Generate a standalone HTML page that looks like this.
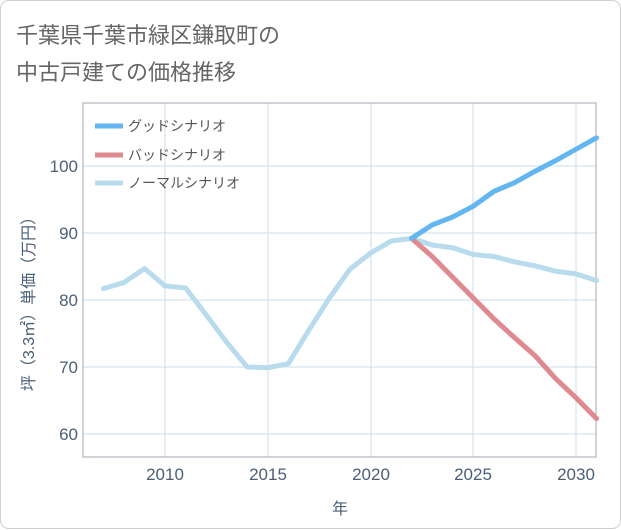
<!DOCTYPE html>
<html><head><meta charset="utf-8"><style>
body{margin:0;background:#fff;}
svg{display:block;font-family:"Liberation Sans","Noto Sans CJK JP",sans-serif;}
</style></head><body>
<svg width="621" height="530" xmlns="http://www.w3.org/2000/svg">
<rect x="0.5" y="0.5" width="620" height="528" rx="8" fill="#fff" stroke="#d0d0d0"/>
<text x="16" y="43" font-size="22" fill="#666">千葉県千葉市緑区鎌取町の</text>
<text x="16" y="80" font-size="22" fill="#666">中古戸建ての価格推移</text>
<g stroke="#d3e3ee" stroke-width="1.2">
<line x1="165" y1="103" x2="165" y2="457"/><line x1="268" y1="103" x2="268" y2="457"/>
<line x1="371" y1="103" x2="371" y2="457"/><line x1="473" y1="103" x2="473" y2="457"/>
<line x1="576" y1="103" x2="576" y2="457"/>
<line x1="83" y1="166" x2="596" y2="166"/><line x1="83" y1="233" x2="596" y2="233"/>
<line x1="83" y1="300" x2="596" y2="300"/><line x1="83" y1="367" x2="596" y2="367"/>
<line x1="83" y1="434" x2="596" y2="434"/>
</g>
<rect x="83" y="103" width="513" height="354" fill="none" stroke="#a0a8b0"/>
<g transform="translate(165,233) scale(20.55,-6.7)" fill="none" stroke-linejoin="round" stroke-linecap="round">
<polyline vector-effect="non-scaling-stroke" stroke="#b8dced" stroke-width="5" points="-3,-8.3 -2,-7.4 -1,-5.3 0,-7.9 1,-8.2 2,-12.2 3,-16.3 4,-20 5,-20.1 6,-19.5 7,-14.5 8,-9.7 9,-5.4 10,-3 11,-1.2 12,-0.8 13,-1.8 14,-2.2 15,-3.2 16,-3.5 17,-4.3 18,-4.9 19,-5.7 20,-6.1 21,-7.1"/>
<polyline vector-effect="non-scaling-stroke" stroke="#df8a90" stroke-width="5" points="12,-0.8 13,-3.5 14,-6.6 15,-9.7 16,-12.8 17,-15.6 18,-18.3 19,-21.7 20,-24.6 21,-27.7"/>
<polyline vector-effect="non-scaling-stroke" stroke="#64b6f0" stroke-width="5" points="12,-0.8 13,1.2 14,2.4 15,4 16,6.2 17,7.5 18,9.2 19,10.8 20,12.5 21,14.2"/>
</g>
<line x1="95" y1="126" x2="123" y2="126" stroke="#64b6f0" stroke-width="5"/>
<line x1="95" y1="155" x2="123" y2="155" stroke="#df8a90" stroke-width="5"/>
<line x1="95" y1="183" x2="123" y2="183" stroke="#b8dced" stroke-width="5"/>
<g font-size="14" fill="#555"><text x="128" y="131">グッドシナリオ</text><text x="128" y="160">バッドシナリオ</text><text x="128" y="188">ノーマルシナリオ</text></g>
<g font-size="17" fill="#4a6078" text-anchor="end">
<text x="78" y="172">100</text><text x="78" y="239">90</text><text x="78" y="306">80</text><text x="78" y="373">70</text><text x="78" y="440">60</text></g>
<g font-size="17" fill="#4a6078" text-anchor="middle">
<text x="165" y="480">2010</text><text x="268" y="480">2015</text><text x="371" y="480">2020</text><text x="473" y="480">2025</text><text x="576" y="480">2030</text>
<text x="340" y="514" font-size="16">年</text></g>
<text transform="translate(34,300) rotate(-90)" font-size="16" fill="#4a6078" text-anchor="middle">坪（3.3㎡）単価（万円）</text>
</svg>
</body></html>
